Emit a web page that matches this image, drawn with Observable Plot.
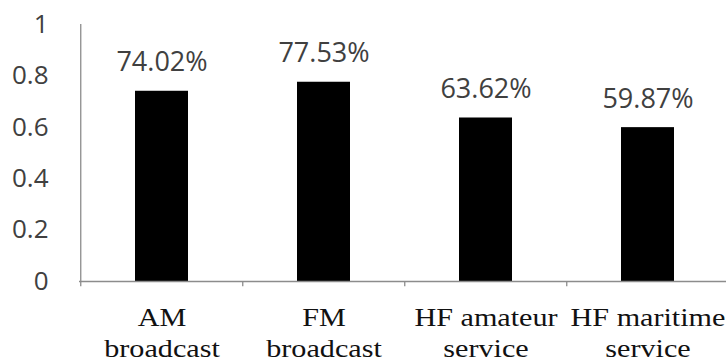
<!DOCTYPE html>
<html>
<head>
<meta charset="utf-8">
<script src="https://cdn.jsdelivr.net/npm/d3@7"></script>
<script src="https://cdn.jsdelivr.net/npm/@observablehq/plot@0.6"></script>
<style>
  html, body { margin: 0; padding: 0; background: #fff; }
  #chart { width: 726px; height: 362px; overflow: hidden; }
</style>
</head>
<body>
<div id="chart"></div>
<script>
const categories = ["AM\nbroadcast", "FM\nbroadcast", "HF amateur\nservice", "HF maritime\nservice"];
const values = [0.7402, 0.7753, 0.6362, 0.5987];
const valueLabels = ["74.02%", "77.53%", "63.62%", "59.87%"];
const yTicks = [0, 0.2, 0.4, 0.6, 0.8, 1];

const data = categories.map((c, i) => ({category: c, value: values[i], label: valueLabels[i]}));

const W = 726, H = 362, mL = 79, mR = -3;
const step = (W - mR - mL) / categories.length;

const sans = "'Open Sans', sans-serif";
const serif = "'Liberation Serif', 'Times New Roman', serif";
const axisGray = "#8c8c8c";

const chart = Plot.plot({
  width: W,
  height: H,
  marginLeft: mL,
  marginRight: mR,
  marginTop: 24,
  marginBottom: 81,
  style: {background: "#fff", overflow: "visible"},
  x: {domain: categories, paddingInner: 0.674, paddingOuter: 0.337, axis: null, label: null},
  y: {domain: [0, 1], axis: null, label: null},
  marks: [
    Plot.axisY({ticks: yTicks, label: null, tickSize: 0, tickPadding: 31, fontSize: 26, fontFamily: sans, fill: "#404040", tickFormat: d => String(d)}),
    Plot.barY(data, {x: "category", y: "value", fill: "#000"}),
    Plot.ruleY([0], {stroke: axisGray, strokeWidth: 1.3}),
    Plot.ruleX([categories[0]], {y1: 0, y2: 1, dx: -step / 2, stroke: axisGray, strokeWidth: 1.3}),
    Plot.ruleX(categories, {y1: 0, y2: -0.02, dx: -step / 2, stroke: axisGray, strokeWidth: 1.3}),
    Plot.text(data, {x: "category", y: "value", text: "label", lineAnchor: "bottom", dy: -20, fontSize: 27, fontFamily: sans, fill: "#404040"}),
    Plot.text(data, {x: "category", y: () => 0, text: "category", lineAnchor: "top", dy: 23, lineHeight: 1.19, fontSize: 26, fontFamily: serif, fill: "#111"})
  ]
});
// horizontally stretch the serif category labels, as in the reference
d3.select(chart).selectAll("g[font-family*='Liberation Serif'] text").each(function() {
  const t = this.getAttribute("transform") || "";
  this.setAttribute("transform", t + " scale(1.16,1)");
});
document.getElementById("chart").appendChild(chart);
</script>
</body>
</html>
